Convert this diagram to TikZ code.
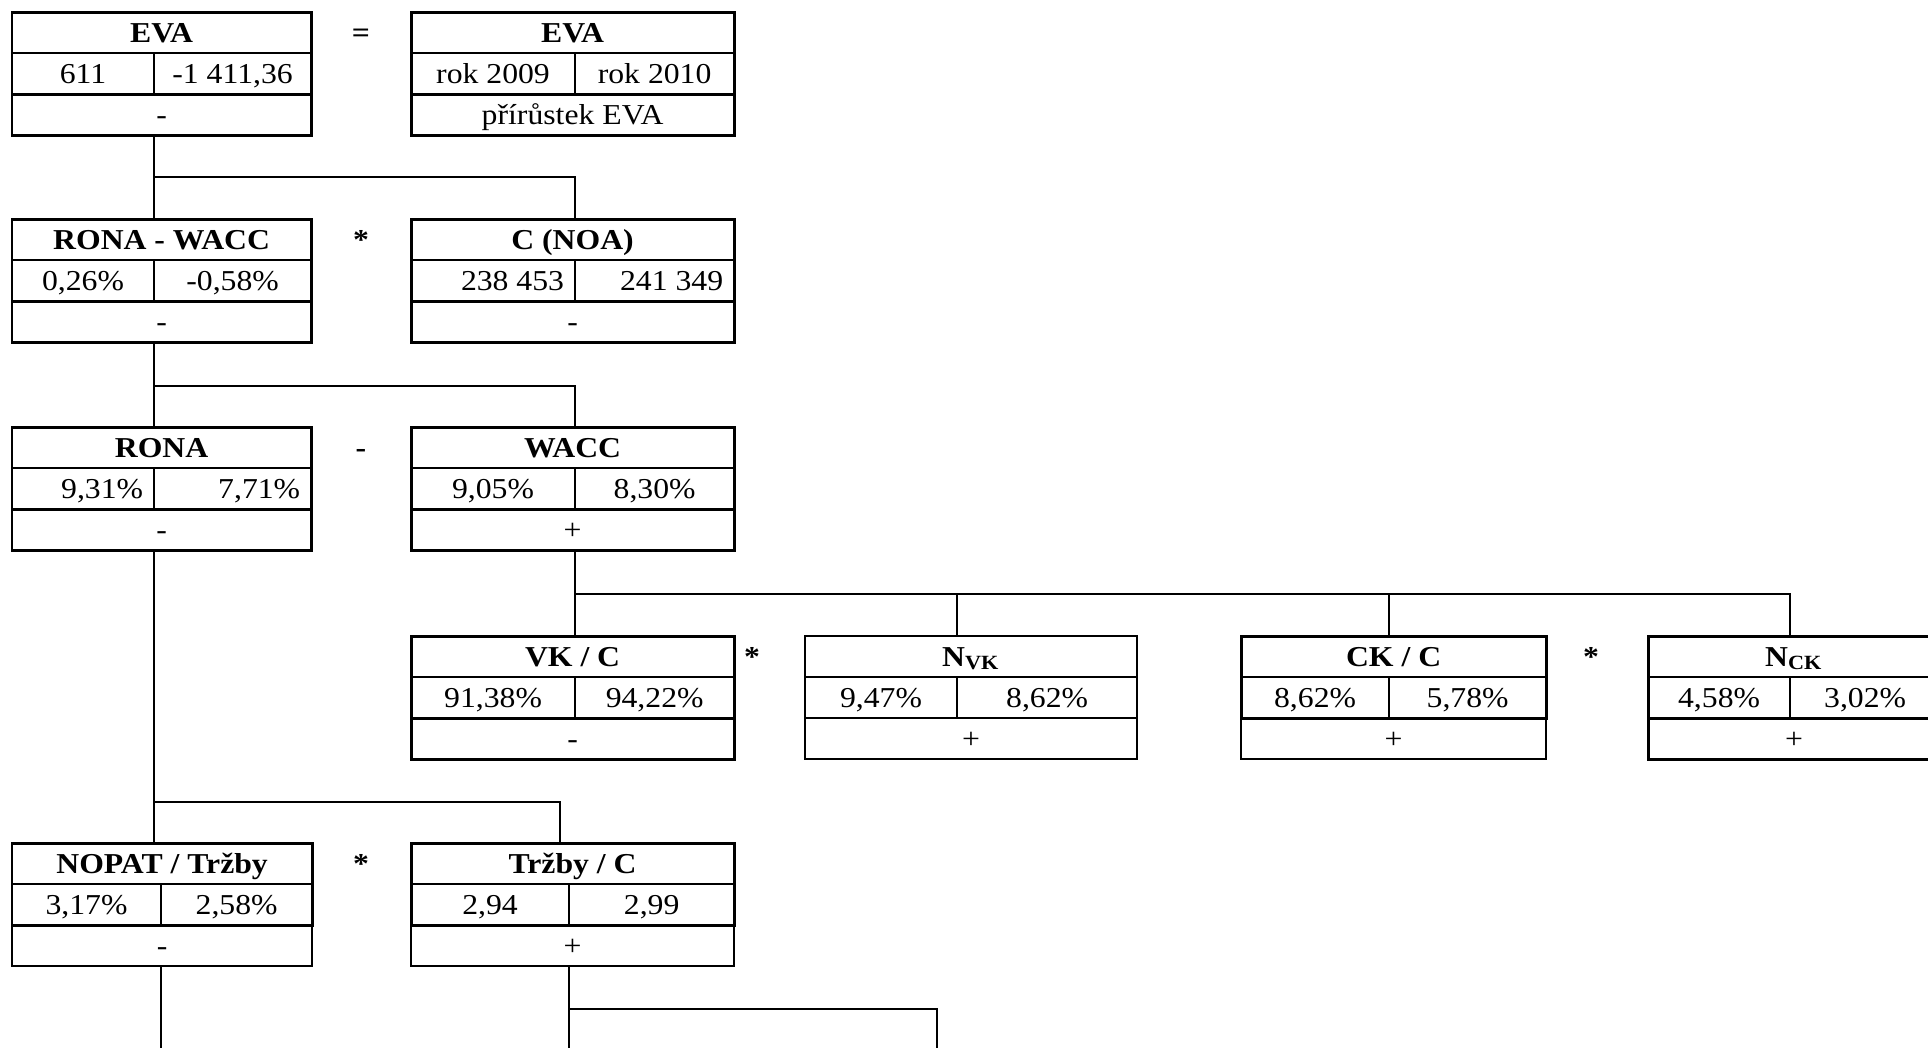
\documentclass[tikz,border=0pt]{standalone}
\usepackage{fontspec}
\setmainfont{Liberation Serif}[FakeStretch=1.1]

% right-aligned number inside a value cell of width \cw (cm)
\newcommand\rightval[1]{\makebox[\dimexpr\cw cm-0.22cm\relax][r]{#1}}

% one indicator box: title row, two year values, change row
% #1 name, #2 left x, #3 split x, #4 right x, #5 top y, #6 title, #7 #8 values, #9 change
\newcommand\evabox[9]{%
  \pgfmathsetmacro\wL{(#3-#2)/100}%
  \pgfmathsetmacro\wR{(#4-#3)/100}%
  \pgfmathsetmacro\wT{(#4-#2)/100}%
  \node[cell, minimum width=\wT cm, font=\bfseries] (#1-t) at (#2,#5) {#6};
  \let\cw\wL
  \node[cell, minimum width=\wL cm] (#1-l) at (#1-t.south west) {#7};
  \let\cw\wR
  \node[cell, minimum width=\wR cm] (#1-r) at (#1-l.north east) {#8};
  \node[cell, minimum width=\wT cm] (#1-b) at (#1-l.south west) {#9};
  \draw[outer] (#1-t.north west) rectangle (#1-r.south east);
  \draw[outerlow] (#1-b.north west) rectangle (#1-b.south east);
}

\tikzset{
  cell/.style={draw, line width=0.55pt, inner sep=0pt, outer sep=0pt,
    minimum height=0.41cm, text height=5.4pt, text depth=0pt, anchor=north west},
  outer/.style={line width=0.85pt},
  outerlow/.style={outer},
  conn/.style={line width=0.57pt},
  op/.style={font=\bfseries, inner sep=0pt, text height=5.4pt, text depth=0pt},
}

\begin{document}
\fontsize{8.2}{10}\selectfont
\begin{tikzpicture}[x=0.01cm, y=-0.01cm]
\useasboundingbox[fill=white] (0,0) rectangle (1928,1047);
\clip (0,0) rectangle (1928,1047);

% row 1
\evabox{A}{12}{154}{311}{12}{EVA}{611}{-1 411,36}{-}
\evabox{B}{411}{575}{734}{12}{EVA}{rok 2009}{rok 2010}{přírůstek EVA}
\node[op] (o1) at (361,32.5) {=};

% row 2
\evabox{C}{12}{154}{311}{219}{RONA - WACC}{0,26\%}{-0,58\%}{-}
\evabox{D}{411}{575}{734}{219}{C (NOA)}{\rightval{238 453}}{\rightval{241 349}}{-}
\node[op] (o2) at (361,239.5) {*};

% row 3
\evabox{E}{12}{154}{311}{427}{RONA}{\rightval{9,31\%}}{\rightval{7,71\%}}{-}
\evabox{F}{411}{575}{734}{427}{WACC}{9,05\%}{8,30\%}{+}
\node[op] (o3) at (361,447.5) {-};

% row 4
\evabox{G}{411}{575}{734}{636}{VK / C}{91,38\%}{94,22\%}{-}
\begin{scope}[outer/.style={line width=0.6pt}]
\evabox{H}{805}{957}{1137}{636}{N\textsubscript{VK}}{9,47\%}{8,62\%}{+}
\end{scope}
\begin{scope}[outerlow/.style={line width=0.6pt}]
\evabox{I}{1241}{1389}{1546}{636}{CK / C}{8,62\%}{5,78\%}{+}
\end{scope}
\evabox{J}{1648}{1790}{1940}{636}{N\textsubscript{CK}}{4,58\%}{3,02\%}{+}
\node[op] (o4) at (752,656.5) {*};
\node[op] (o5) at (1591,656.5) {*};

% row 5
\begin{scope}[outerlow/.style={line width=0.6pt}]
\evabox{K}{12}{161}{312}{843}{NOPAT / Tržby}{3,17\%}{2,58\%}{-}
\evabox{L}{411}{569}{734}{843}{Tržby / C}{2,94}{2,99}{+}
\end{scope}
\node[op] (o6) at (361,863.5) {*};

% junctions of the tree
\coordinate (j1) at (0,177);
\coordinate (j2) at (0,386);
\coordinate (j3) at (0,594);
\coordinate (j4) at (560,802);
\coordinate (j5) at (0,1009);
\coordinate (kend) at (161,1060);
\coordinate (lend) at (937,1060);

% connectors
\draw[conn] (A-l.east |- A-b.south) -- (C-l.east |- C-t.north);
\draw[conn] (A-l.east |- j1) -| (D-l.east |- D-t.north);

\draw[conn] (C-l.east |- C-b.south) -- (E-l.east |- E-t.north);
\draw[conn] (C-l.east |- j2) -| (F-l.east |- F-t.north);

\draw[conn] (F-l.east |- F-b.south) -- (G-l.east |- G-t.north);
\draw[conn] (F-l.east |- j3) -| (J-l.east |- J-t.north);
\draw[conn] (H-l.east |- j3) -- (H-l.east |- H-t.north);
\draw[conn] (I-l.east |- j3) -- (I-l.east |- I-t.north);

\draw[conn] (E-l.east |- E-b.south) -- (E-l.east |- K-t.north);
\draw[conn] (E-l.east |- j4) -- (j4) -- (j4 |- L-t.north);

\draw[conn] (K-l.east |- K-b.south) -- (K-l.east |- kend);
\draw[conn] (L-l.east |- L-b.south) -- (L-l.east |- lend);
\draw[conn] (L-l.east |- j5) -| (lend);
\end{tikzpicture}
\end{document}
